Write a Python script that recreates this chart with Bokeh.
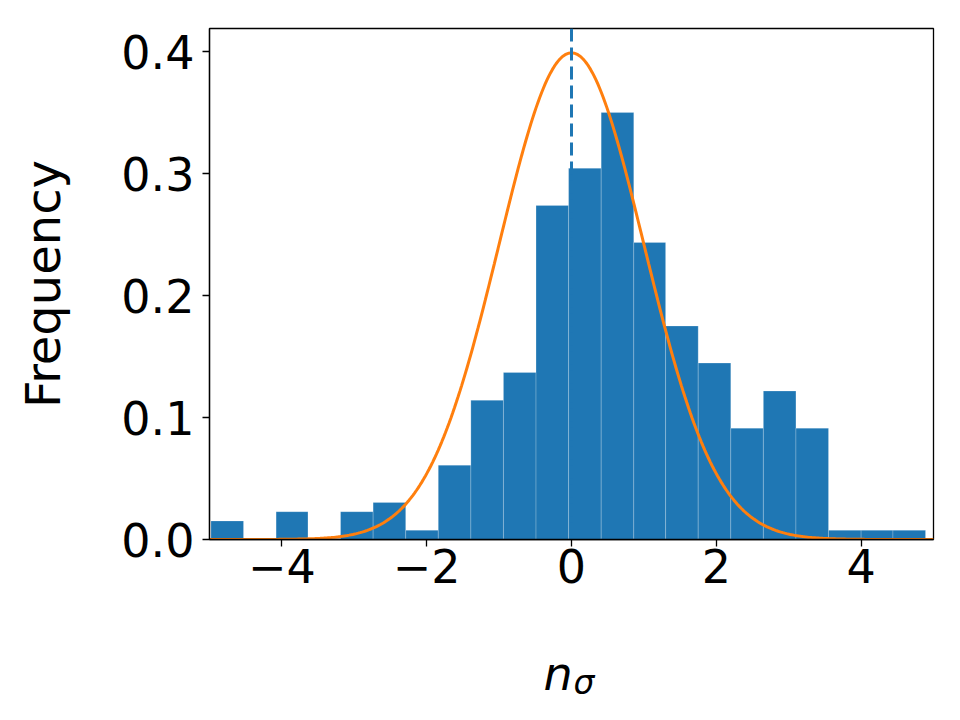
import numpy as np
from bokeh.plotting import figure
from bokeh.layouts import column
from bokeh.models import Range1d, FixedTicker, Span, Label, ColumnDataSource
from bokeh.embed import file_html
from bokeh.resources import INLINE

# ---- data ----
bin_edges = [-4.98, -4.53, -4.08, -3.64, -3.19, -2.74, -2.29, -1.84, -1.39, -0.94, -0.49,
             -0.04, 0.41, 0.86, 1.30, 1.75, 2.20, 2.65, 3.10, 3.55, 4.00, 4.44, 4.89]
frequency = [0.0152, 0.0, 0.0228, 0.0, 0.0228, 0.0304, 0.0076, 0.0609, 0.1141, 0.1369, 0.2739,
             0.3043, 0.3500, 0.2435, 0.1750, 0.1446, 0.0913, 0.1217, 0.0913, 0.0076, 0.0076, 0.0076]
gauss_mu = 0.0
gauss_sigma = 1.0
x_ticks = [-4, -2, 0, 2, 4]
x_tick_labels = ["\u22124", "\u22122", "0", "2", "4"]
y_ticks = [0.0, 0.1, 0.2, 0.3, 0.4]
y_tick_labels = ["0.0", "0.1", "0.2", "0.3", "0.4"]

FONT = "DejaVu Sans"

p = figure(width=960, height=610, output_backend="svg", toolbar_location=None,
           x_range=Range1d(-5, 5), y_range=Range1d(0, 0.4189),
           min_border_left=209, min_border_right=27, min_border_top=28, min_border_bottom=71)

src = ColumnDataSource(dict(left=bin_edges[:-1], right=bin_edges[1:], top=frequency,
                            bottom=[0] * len(frequency)))
p.quad(left="left", right="right", top="top", bottom="bottom", source=src,
       fill_color="#1f77b4", line_color="white", line_alpha=0.3, line_width=0.7)

span = Span(location=gauss_mu, dimension="height", line_color="#1f77b4",
            line_width=3, line_dash="13 6")
p.add_layout(span)

xs = np.linspace(-5, 5, 400)
ys = np.exp(-0.5 * ((xs - gauss_mu) / gauss_sigma) ** 2) / (gauss_sigma * np.sqrt(2 * np.pi))
p.line(xs, ys, line_color="#ff7f0e", line_width=3)

p.grid.visible = False
p.outline_line_color = "black"
p.outline_line_width = 1.3

for ax in (p.xaxis[0], p.yaxis[0]):
    ax.axis_line_color = "black"
    ax.axis_line_width = 1.3
    ax.major_tick_line_color = "black"
    ax.major_tick_line_width = 1.3
    ax.major_tick_out = 7
    ax.major_tick_in = 0
    ax.minor_tick_line_color = None
    ax.major_label_text_font = FONT
    ax.major_label_text_font_size = "46px"
    ax.major_label_text_color = "black"

p.xaxis.ticker = FixedTicker(ticks=x_ticks)
p.xaxis.major_label_overrides = {t: l for t, l in zip(x_ticks, x_tick_labels)}
p.xaxis.major_label_standoff = 2

p.yaxis.ticker = FixedTicker(ticks=y_ticks)
p.yaxis.major_label_overrides = {t: l for t, l in zip(y_ticks, y_tick_labels)}
p.yaxis.major_label_standoff = 8
p.yaxis.axis_label = "Frequency"
p.yaxis.axis_label_text_font = FONT
p.yaxis.axis_label_text_font_size = "48px"
p.yaxis.axis_label_text_font_style = "normal"
p.yaxis.axis_label_text_color = "black"
p.yaxis.axis_label_standoff = 47

# x-axis label n_sigma, drawn in a strip under the main plot
q = figure(width=960, height=110, output_backend="svg", toolbar_location=None,
           x_range=p.x_range, y_range=Range1d(0, 1),
           x_axis_location=None, y_axis_location=None,
           min_border_left=209, min_border_right=27, min_border_top=0, min_border_bottom=0)
q.grid.visible = False
q.outline_line_color = None

lab_n = Label(x=334, y=47, x_units="screen", y_units="screen", text="n",
              text_font=FONT, text_font_size="46px",
              text_font_style="italic", text_color="black", text_baseline="alphabetic",
              text_align="left")
lab_s = Label(x=364, y=38, x_units="screen", y_units="screen", text="\u03c3",
              text_font=FONT, text_font_size="33px",
              text_font_style="italic", text_color="black", text_baseline="alphabetic",
              text_align="left")
q.add_layout(lab_n)
q.add_layout(lab_s)

layout = column(p, q, spacing=0)
open("out.html", "w").write(file_html(layout, INLINE))
